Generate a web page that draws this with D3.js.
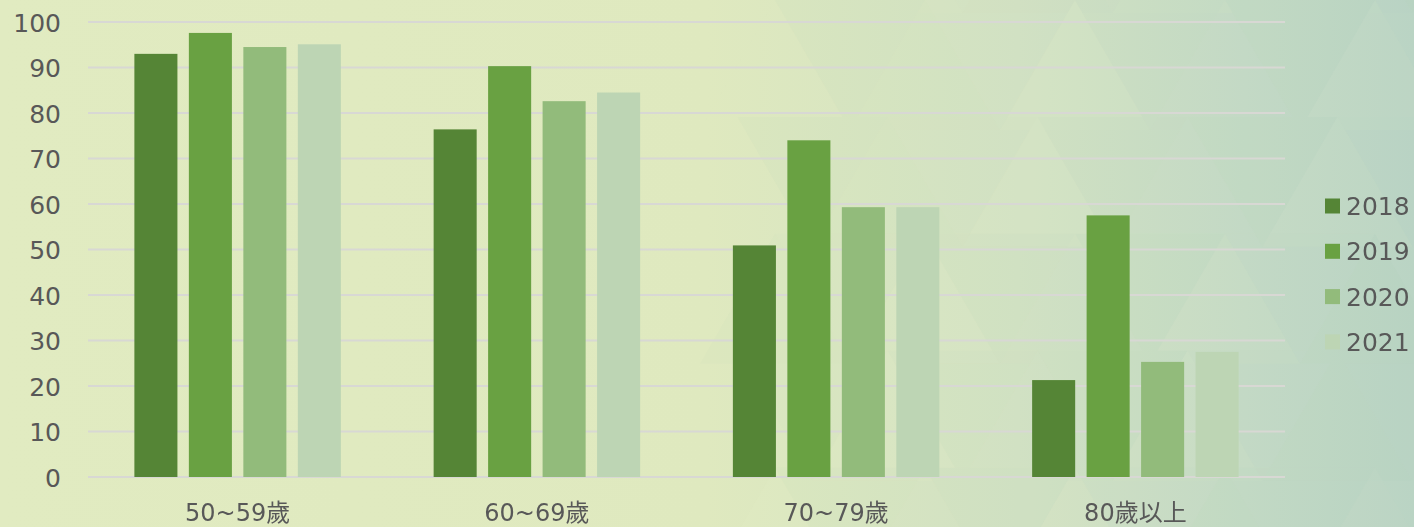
<!DOCTYPE html>
<html lang="zh-Hant">
<head>
<meta charset="UTF-8">
<title>年齡層別比例</title>
<script src="https://cdn.jsdelivr.net/npm/d3@7"></script>
<style>
    html, body { margin: 0; padding: 0; }
    body { width: 1414px; height: 527px; overflow: hidden; }
    svg text { font-family: "DejaVu Sans", "Noto Sans CJK TC", sans-serif; fill: #585858; }
</style>
</head>
<body>
<div id="chart"></div>
<script>
    // data
    const ageGroups = ['50~59歲', '60~69歲', '70~79歲', '80歲以上'];
    const years = ['2018', '2019', '2020', '2021'];
    const values2018 = [93.0, 76.4, 50.9, 21.3];
    const values2019 = [97.6, 90.3, 74.0, 57.5];
    const values2020 = [94.5, 82.6, 59.3, 25.3];
    const values2021 = [95.1, 84.5, 59.3, 27.5];
    const yTicks = [0, 10, 20, 30, 40, 50, 60, 70, 80, 90, 100];

    const seriesValues = [values2018, values2019, values2020, values2021];
    const colors = ['#558536', '#69a142', '#92bb7b', '#bdd5b4'];

    const width = 1414, height = 527;
    const plot = { left: 88, right: 1285, top: 22, bottom: 477 };

    const svg = d3.select('#chart').append('svg')
        .attr('width', width)
        .attr('height', height);

    // background: yellow-green fading into a bluish green on the right
    const defs = svg.append('defs');
    const grad = defs.append('linearGradient')
        .attr('id', 'bg')
        .attr('x1', '0%').attr('y1', '0%')
        .attr('x2', '100%').attr('y2', '0%');
    grad.append('stop').attr('offset', '0%').attr('stop-color', '#e1ebc1');
    grad.append('stop').attr('offset', '50%').attr('stop-color', '#dfe9bf');
    grad.append('stop').attr('offset', '72%').attr('stop-color', '#d3e2c3');
    grad.append('stop').attr('offset', '88%').attr('stop-color', '#c4dac5');
    grad.append('stop').attr('offset', '100%').attr('stop-color', '#bad4c4');

    svg.append('rect')
        .attr('width', width)
        .attr('height', height)
        .attr('fill', 'url(#bg)');

    // faint triangle texture on the right half
    const tri = svg.append('g').attr('opacity', 0.07);
    const side = 150, th = side * Math.sqrt(3) / 2;
    for (let row = -1; row < 5; row++) {
        for (let col = 0; col < 9; col++) {
            const x0 = 700 + col * side / 2 + (row % 2 ? side / 4 : 0);
            const y0 = row * th * 0.9;
            const up = (col + row) % 2 === 0;
            const pts = up
                ? [[x0, y0 + th], [x0 + side / 2, y0], [x0 + side, y0 + th]]
                : [[x0, y0], [x0 + side, y0], [x0 + side / 2, y0 + th]];
            tri.append('polygon')
                .attr('points', pts.map(p => p.join(',')).join(' '))
                .attr('fill', (col * 7 + row * 3) % 4 === 0 ? '#f0f4c8' : '#a9c8b4')
                .attr('opacity', ((col * 5 + row * 11) % 3 + 1) / 3);
        }
    }

    const x0 = d3.scaleBand()
        .domain(ageGroups)
        .range([plot.left, plot.right])
        .paddingInner(0.31)
        .paddingOuter(0.155);

    const x1 = d3.scaleBand()
        .domain(years)
        .range([0, x0.bandwidth()])
        .paddingInner(0.21);

    const y = d3.scaleLinear()
        .domain([0, 100])
        .range([plot.bottom, plot.top]);

    // gridlines
    svg.append('g')
        .selectAll('line')
        .data(yTicks)
        .join('line')
        .attr('x1', plot.left)
        .attr('x2', plot.right)
        .attr('y1', d => y(d))
        .attr('y2', d => y(d))
        .attr('stroke', '#d8d8d4')
        .attr('stroke-width', 2);

    // y axis labels
    const yAxis = svg.append('g')
        .attr('transform', `translate(${plot.left - 27},0)`)
        .call(d3.axisLeft(y).tickValues(yTicks).tickSize(0).tickPadding(0));
    yAxis.select('.domain').remove();
    yAxis.selectAll('text')
        .attr('font-size', 25)
        .attr('dy', '0.36em')
        .style('font-family', '"DejaVu Sans", sans-serif')
        .style('fill', '#585858');

    // bars
    const groups = svg.append('g')
        .selectAll('g')
        .data(ageGroups)
        .join('g')
        .attr('transform', d => `translate(${x0(d)},0)`);

    groups.selectAll('rect')
        .data((d, i) => years.map((yr, j) => ({ yr, j, v: seriesValues[j][i] })))
        .join('rect')
        .attr('x', d => x1(d.yr))
        .attr('width', x1.bandwidth())
        .attr('y', d => y(d.v))
        .attr('height', d => y(0) - y(d.v))
        .attr('fill', d => colors[d.j]);

    // x axis labels
    const xAxis = svg.append('g')
        .attr('transform', `translate(0,${plot.bottom})`)
        .call(d3.axisBottom(x0).tickSize(0).tickPadding(0));
    xAxis.select('.domain').remove();
    xAxis.selectAll('text')
        .attr('y', 44)
        .attr('dy', 0)
        .attr('font-size', 24)
        .style('font-family', '"DejaVu Sans", "Noto Sans CJK TC", sans-serif')
        .style('fill', '#585858');

    // legend
    const legend = svg.append('g')
        .attr('transform', 'translate(1325,206)');
    const items = legend.selectAll('g')
        .data(years)
        .join('g')
        .attr('transform', (d, i) => `translate(0,${i * 45.3})`);
    items.append('rect')
        .attr('x', 0)
        .attr('y', -7.5)
        .attr('width', 15)
        .attr('height', 15)
        .attr('fill', (d, i) => colors[i]);
    items.append('text')
        .attr('x', 21)
        .attr('dy', '0.36em')
        .attr('font-size', 25)
        .text(d => d);
</script>
</body>
</html>
